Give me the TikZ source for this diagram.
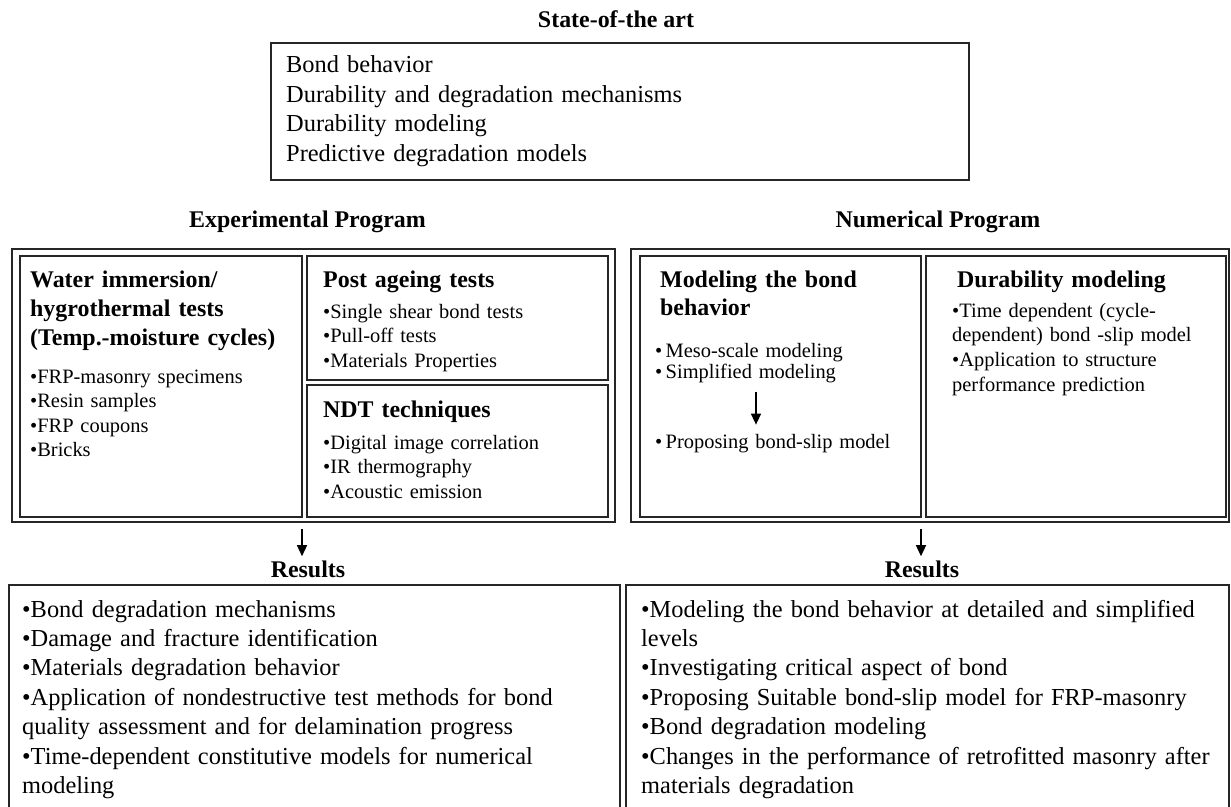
\documentclass[tikz,border=0pt]{standalone}
\usepackage{fontspec}
\setmainfont{Liberation Serif}
\usetikzlibrary{arrows.meta,fit}
\begin{document}
\begin{tikzpicture}[x=1bp,y=-1bp,
  box/.style={draw=black!85, line width=1.6bp, inner sep=0pt},
  hole/.style={inner sep=0pt},
  edge/.style={draw=black!85, line width=1.6bp},
  big/.style={font=\fontsize{24.5}{29.6}\selectfont},
  hd/.style={font=\bfseries\fontsize{24}{29.5}\selectfont},
  sm/.style={font=\fontsize{20.5}{24.7}\selectfont},
  txt/.style={inner sep=0pt, anchor=base west, align=left},
  arr/.style={-{Triangle[length=11bp,width=10bp]}, line width=1.4bp}]
\useasboundingbox (0,0) rectangle (1231,807);

% title and state-of-the-art
\node[hd, inner sep=0pt, anchor=base] (title) at (616,28) {State-of-the art};
\node[box, fit={(271,43)(969,180)}] (sota) {};
\node[txt, big, text width=660bp] (sotatxt) at (286,73)
  {Bond behavior\\Durability and degradation mechanisms\\Durability modeling\\Predictive degradation models};

% program headings
\node[hd, inner sep=0pt, anchor=base] (exph) at (307.5,227) {Experimental Program};
\node[hd, inner sep=0pt, anchor=base] (numh) at (938,227) {Numerical Program};

% experimental program
\node[box, fit={(12,249)(615,522)}] (expbox) {};
\node[box, fit={(20,256)(302,517)}] (water) {};
\node[txt, hd, text width=268bp] (waterh) at (30,287)
  {Water immersion/\\hygrothermal tests\\(Temp.-moisture cycles)};
\node[txt, sm, text width=268bp] (wateri) at (30,383)
  {•FRP-masonry specimens\\•Resin samples\\•FRP coupons\\•Bricks};

\node[box, fit={(307,256)(608,380)}] (post) {};
\node[txt, hd, text width=280bp] (posth) at (323,287) {Post ageing tests};
\node[txt, sm, text width=280bp] (posti) at (323,318)
  {•Single shear bond tests\\•Pull-off tests\\•Materials Properties};

\node[box, fit={(307,385)(608,517)}] (ndt) {};
\node[txt, hd, text width=280bp] (ndth) at (323,417) {NDT techniques};
\node[txt, sm, text width=280bp] (ndti) at (323,449)
  {•Digital image correlation\\•IR thermography\\•Acoustic emission};

% numerical program
\node[box, fit={(631,249)(1229,522)}] (numbox) {};
\node[box, fit={(640,256)(921,517)}] (model) {};
\node[txt, hd, text width=255bp, font=\bfseries\fontsize{24}{28.5}\selectfont] (modelh) at (660,287)
  {Modeling the bond\\behavior};
\node[txt, sm, text width=255bp, font=\fontsize{20.5}{22}\selectfont] (meso) at (655,357)
  {•\,Meso-scale modeling\\•\,Simplified modeling};
\node[txt, sm, text width=255bp] (prop) at (655,448) {•\,Proposing bond-slip model};
\coordinate (ma) at (756,0);
\draw[arr, shorten <=8bp, shorten >=9bp] (meso.south -| ma) -- (prop.north -| ma);

\node[box, fit={(926,256)(1226,517)}] (dura) {};
\node[txt, hd, text width=265bp] (durah) at (957,287) {Durability modeling};
\node[txt, sm, text width=265bp, font=\fontsize{20.5}{25}\selectfont] (durai) at (952,317)
  {•Time dependent (cycle-\\dependent) bond -slip model\\•Application to structure\\performance prediction};

% results
\node[hd, inner sep=0pt, anchor=base] (res1) at (308,577) {Results};
\node[hd, inner sep=0pt, anchor=base] (res2) at (922,577) {Results};
\coordinate (ax1) at (302,0);
\coordinate (ax2) at (921,0);
\draw[arr, shorten <=6bp, shorten >=4bp] (expbox.south -| ax1) -- (res1.north -| ax1);
\draw[arr, shorten <=6bp, shorten >=4bp] (numbox.south -| ax2) -- (res2.north -| ax2);

\node[hole, fit={(9,585)(620,807)}] (resL) {};
\draw[edge] (resL.south west) -- (resL.north west) -- (resL.north east) -- (resL.south east);
\node[hole, fit={(626,585)(1229,807)}] (resR) {};
\draw[edge] (resR.south west) -- (resR.north west) -- (resR.north east) -- (resR.south east);

\node[txt, big, text width=590bp] (resLt) at (22,617)
  {•Bond degradation mechanisms\\•Damage and fracture identification\\•Materials degradation behavior\\•Application of nondestructive test methods for bond\\quality assessment and for delamination progress\\•Time-dependent constitutive models for numerical\\modeling};
\node[txt, big, text width=580bp] (resRt) at (641,617)
  {•Modeling the bond behavior at detailed and simplified\\levels\\•Investigating critical aspect of bond\\•Proposing Suitable bond-slip model for FRP-masonry\\•Bond degradation modeling\\•Changes in the performance of retrofitted masonry after\\materials degradation};
\end{tikzpicture}
\end{document}
